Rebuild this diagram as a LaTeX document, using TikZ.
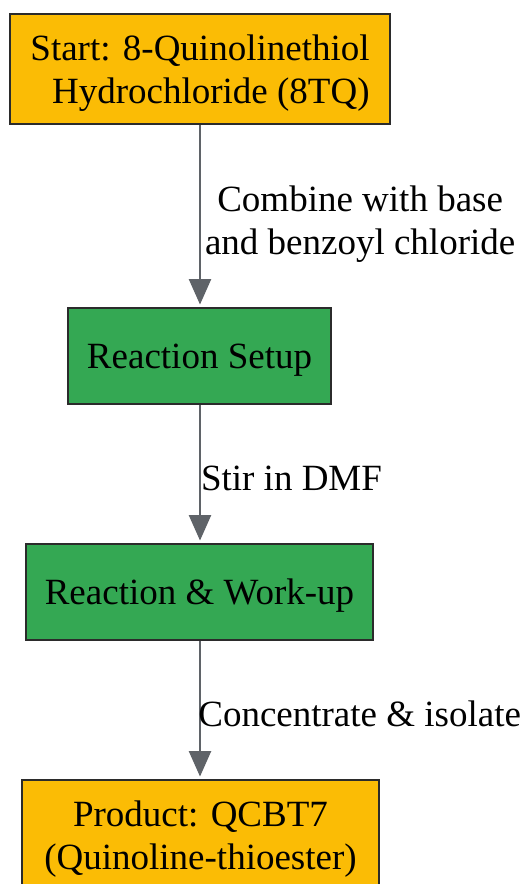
\documentclass[tikz,border=0pt]{standalone}
\usepackage{fontspec}
\setmainfont{Liberation Serif}
\usetikzlibrary{arrows.meta}
\definecolor{endorange}{HTML}{FBBC05}
\definecolor{stepgreen}{HTML}{34A853}
\definecolor{flowgray}{HTML}{5F6368}
\definecolor{boxline}{HTML}{2B2B2B}

\begin{document}
\begin{tikzpicture}[x=0.75pt,y=-0.75pt,
  box/.style={draw=boxline, line width=1.2pt, rectangle, inner sep=0pt,
    text depth=0pt, font=\fontsize{27.75}{32.25}\selectfont},
  endbox/.style={box, fill=endorange, minimum height=82.5pt},
  stepbox/.style={box, fill=stepgreen, minimum height=72pt},
  flow/.style={draw=flowgray, line width=1.5pt, shorten >=2pt,
    -{Triangle[length=19pt,width=16.5pt]}},
  lbl/.style={right, inner sep=3pt, align=center, text depth=0pt, yshift=-3pt,
    font=\fontsize{27.75}{32.25}\selectfont}]
\useasboundingbox (0,0) rectangle (523,884);
% the boxes
\node[endbox, minimum width=285pt, align=right] (start) at (200,69)
  {Start: 8-Quinolinethiol\\Hydrochloride (8TQ)};
\node[stepbox, minimum width=197.25pt] (setup) at (199.5,356) {Reaction Setup};
\node[stepbox, minimum width=260.25pt] (workup) at (199.5,592) {Reaction \& Work-up};
\node[endbox, minimum width=267.75pt, align=center] (product) at (200.5,835)
  {Product: QCBT7\\(Quinoline-thioester)};
% the arrows
\draw[flow] (start.south) -- node[lbl] {Combine with base\\and benzoyl chloride}
  (start.south |- setup.north);
\draw[flow] (setup.south -| start.south) -- node[lbl, inner sep=0pt] {Stir in DMF}
  (start.south |- workup.north);
\draw[flow] (workup.south -| start.south) -- node[lbl, inner sep=0pt, xshift=-2pt] {Concentrate \& isolate}
  (start.south |- product.north);
\end{tikzpicture}
\end{document}
